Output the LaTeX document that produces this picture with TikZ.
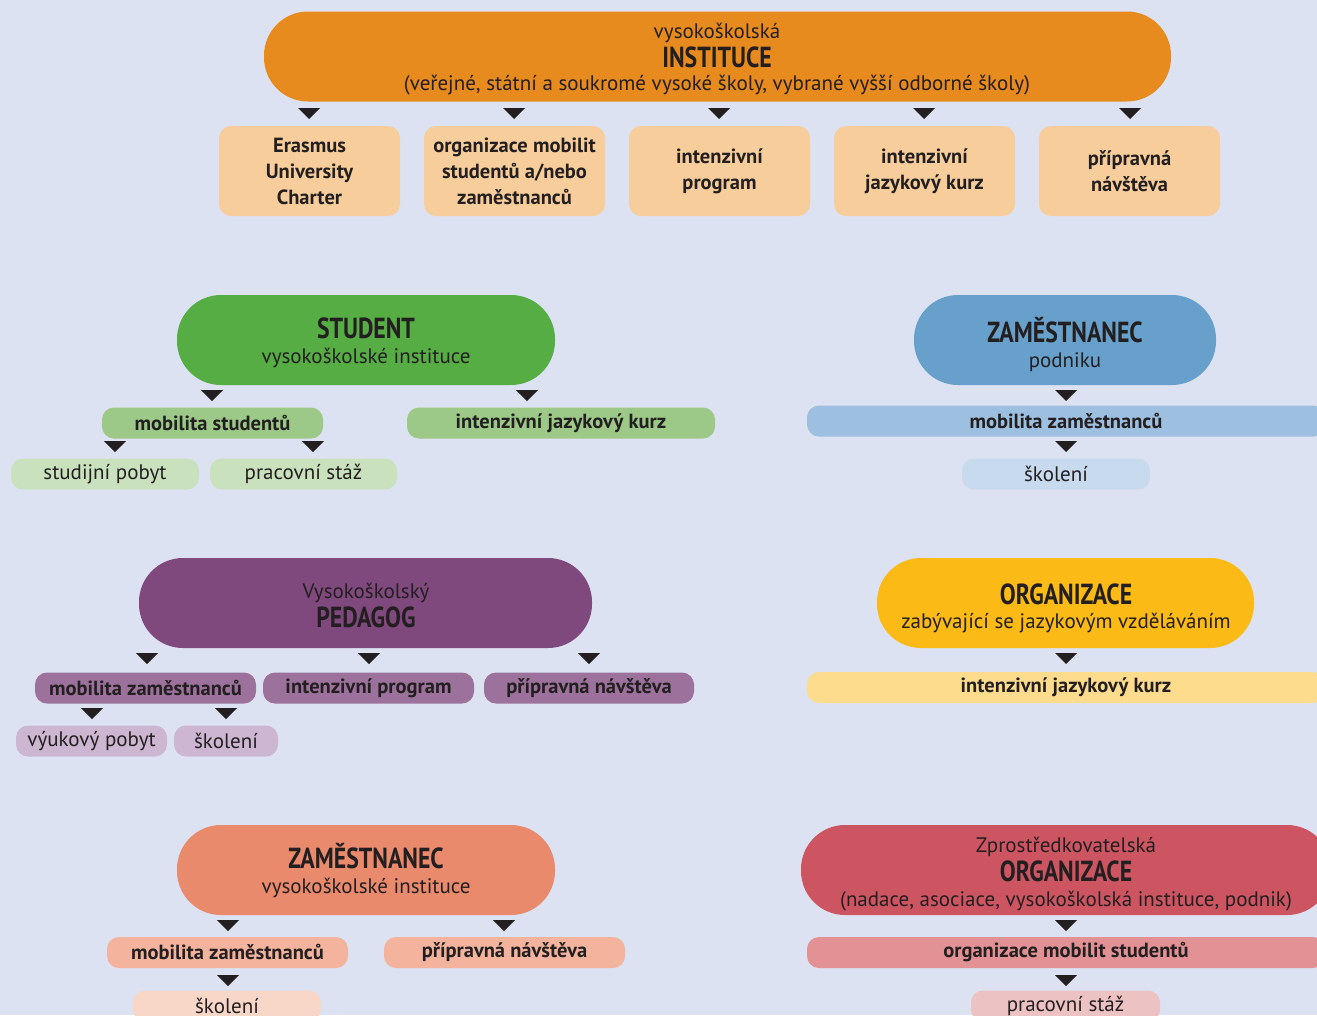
\documentclass[tikz,border=0pt]{standalone}
\usepackage{fontspec}
\setmainfont{PT Sans}
\newfontfamily\headfont[FakeStretch=0.82]{PT Sans}
\usetikzlibrary{positioning}
\usepackage{xcolor}

\definecolor{bg}{HTML}{DCE2F1}
\definecolor{ink}{HTML}{231F20}
\definecolor{orA}{HTML}{E88B1E}
\definecolor{orB}{HTML}{F7CD9B}
\definecolor{grA}{HTML}{55AD43}
\definecolor{grB}{HTML}{9CC987}
\definecolor{grC}{HTML}{C9E2BD}
\definecolor{blA}{HTML}{67A0CB}
\definecolor{blB}{HTML}{9DBFE0}
\definecolor{blC}{HTML}{C8DAEE}
\definecolor{puA}{HTML}{80497D}
\definecolor{puB}{HTML}{9C729C}
\definecolor{puC}{HTML}{CDB6D1}
\definecolor{yeA}{HTML}{FBBA16}
\definecolor{yeB}{HTML}{FEDC8E}
\definecolor{saA}{HTML}{E98A6D}
\definecolor{saB}{HTML}{F3B39D}
\definecolor{saC}{HTML}{F8D6C8}
\definecolor{reA}{HTML}{CD5562}
\definecolor{reB}{HTML}{E29195}
\definecolor{reC}{HTML}{EDC2C3}

\newcommand{\downtri}[2]{\fill[ink] (#1-11,#2) -- (#1+11,#2) -- (#1,#2+11) -- cycle;}

\tikzset{
  bigbox/.style={rounded corners=44pt, minimum height=90pt, inner sep=0pt},
  topbox/.style={fill=orB, rounded corners=12pt, minimum width=181pt, minimum height=90pt,
    inner sep=0pt, align=center, text=ink, font=\bfseries\fontsize{20.5}{26}\selectfont},
  midbox/.style={rounded corners=12pt, minimum height=31pt, inner sep=0pt, text=ink,
    font=\bfseries\fontsize{20.5}{22}\selectfont},
  lowbox/.style={rounded corners=12pt, minimum height=31pt, inner sep=0pt, text=ink,
    font=\fontsize{21}{22}\selectfont},
  head/.style={anchor=base, text=ink, font=\headfont\bfseries\fontsize{29}{30}\selectfont},
  sub/.style={anchor=base, text=ink, font=\fontsize{21}{22}\selectfont},
}

\begin{document}
\begin{tikzpicture}[x=1pt, y=-1pt]

\useasboundingbox (0,0) rectangle (1317,1015);
\clip (0,0) rectangle (1317,1015);
\fill[bg] (0,0) rectangle (1317,1015);

%institution
\node[bigbox, fill=orA, minimum width=907pt] (inst) at (717.5,56.5) {};
\node[sub] (inst-a) at (717,38) {vysokoškolská};
\node[head] (inst-b) at (717,67) {INSTITUCE};
\node[sub] (inst-c) at (717,90) {(veřejné, státní a soukromé vysoké školy, vybrané vyšší odborné školy)};
\foreach \x in {309,514,719,924,1130} {\downtri{\x}{108}}
\node[topbox] (erasmus) at (309.5,171) {Erasmus\\University\\Charter};
\node[topbox] (orgmob) at (514.5,171) {organizace mobilit\\studentů a/nebo\\zaměstnanců};
\node[topbox] (intprog) at (719.5,171) {intenzivní\\program};
\node[topbox] (intkurz) at (924.5,171) {intenzivní\\jazykový kurz};
\node[topbox] (pripnav) at (1129.5,171) {přípravná\\návštěva};

%student
\node[bigbox, fill=grA, minimum width=378pt] (stud) at (366,340) {};
\node[head] (stud-a) at (366,338) {STUDENT};
\node[sub] (stud-b) at (366,363) {vysokoškolské instituce};
\downtri{212}{390} \downtri{527}{390}
\node[midbox, fill=grB, minimum width=221pt] (stmob) at (212.5,423) {mobilita studentů};
\node[midbox, fill=grB, minimum width=308pt] (stkurz) at (561,423) {intenzivní jazykový kurz};
\downtri{115}{441} \downtri{313}{441}
\node[lowbox, fill=grC, minimum width=188pt] (stpobyt) at (105,474) {studijní pobyt};
\node[lowbox, fill=grC, minimum width=187pt] (ststaz) at (303.5,474) {pracovní stáž};

%business employee
\node[bigbox, fill=blA, minimum width=302pt] (podn) at (1065,340) {};
\node[head] (podn-a) at (1065,342) {ZAMĚSTNANEC};
\node[sub] (podn-b) at (1065,367) {podniku};
\downtri{1066}{390}
\node[midbox, fill=blB, minimum width=518pt] (pdmob) at (1066,421) {mobilita zaměstnanců};
\downtri{1066}{441}
\node[lowbox, fill=blC, minimum width=188pt] (pdskol) at (1056,474) {školení};

%teacher
\node[bigbox, fill=puA, minimum width=453pt] (ped) at (365.5,603) {};
\node[sub] (ped-a) at (366,598) {Vysokoškolský};
\node[head] (ped-b) at (366,627) {PEDAGOG};
\foreach \x in {147,369,589} {\downtri{\x}{653}}
\node[midbox, fill=puB, minimum width=221pt] (pgmob) at (145.5,688) {mobilita zaměstnanců};
\node[midbox, fill=puB, minimum width=211pt] (pgprog) at (368.5,688) {intenzivní program};
\node[midbox, fill=puB, minimum width=210pt] (pgnav) at (589,688) {přípravná návštěva};
\downtri{92}{708} \downtri{226}{708}
\node[lowbox, fill=puC, minimum width=151pt] (pgpobyt) at (91.5,741) {výukový pobyt};
\node[lowbox, fill=puC, minimum width=104pt] (pgskol) at (226,741) {školení};

%language organisation
\node[bigbox, fill=yeA, minimum width=377pt] (jaz) at (1065.5,603) {};
\node[head] (jaz-a) at (1066,604) {ORGANIZACE};
\node[sub] (jaz-b) at (1066,628) {zabývající se jazykovým vzděláváním};
\downtri{1066}{653}
\node[midbox, fill=yeB, minimum width=518pt] (jzkurz) at (1066,687.5) {intenzivní jazykový kurz};

%institution employee
\node[bigbox, fill=saA, minimum width=378pt] (zam) at (366,870) {};
\node[head] (zam-a) at (366,868) {ZAMĚSTNANEC};
\node[sub] (zam-b) at (366,893) {vysokoškolské instituce};
\downtri{228}{920} \downtri{504}{920}
\node[midbox, fill=saB, minimum width=241pt] (zmmob) at (227.5,952.5) {mobilita zaměstnanců};
\node[midbox, fill=saB, minimum width=241pt] (zmnav) at (504.5,952.5) {přípravná návštěva};
\downtri{228}{975}
\node[lowbox, fill=saC, minimum width=188pt] (zmskol) at (227,1006) {školení};

%intermediary organisation
\node[bigbox, fill=reA, minimum width=530pt] (zpr) at (1066,870) {};
\node[sub] (zpr-a) at (1066,852) {Zprostředkovatelská};
\node[head] (zpr-b) at (1066,881) {ORGANIZACE};
\node[sub] (zpr-c) at (1066,906) {(nadace, asociace, vysokoškolská instituce, podnik)};
\downtri{1066}{920}
\node[midbox, fill=reB, minimum width=518pt] (zpmob) at (1066,952.5) {organizace mobilit studentů};
\downtri{1066}{975}
\node[lowbox, fill=reC, minimum width=189pt] (zpstaz) at (1065.5,1006) {pracovní stáž};

\end{tikzpicture}
\end{document}
